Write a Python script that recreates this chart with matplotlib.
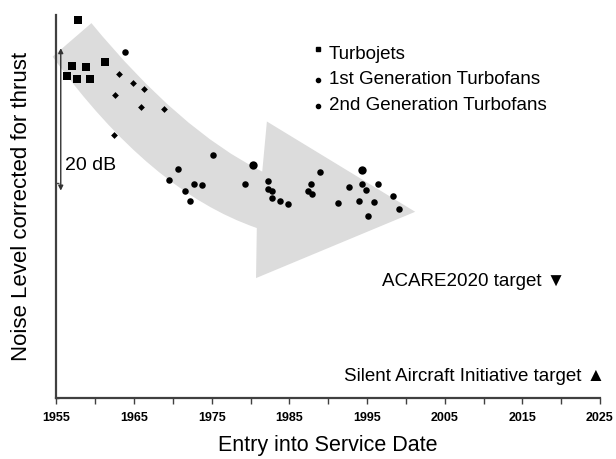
import matplotlib
matplotlib.use("Agg")
import matplotlib.pyplot as plt
from matplotlib.path import Path
from matplotlib.patches import PathPatch
import numpy as np

plt.rcParams['font.family'] = ['Liberation Sans', 'DejaVu Sans']

# data: entry into service year, noise level (relative dB)
turbojet_year = [1957.8, 1957.0, 1956.3, 1957.6, 1958.8, 1959.3, 1961.3]
turbojet_db = [53.6, 47.1, 45.7, 45.2, 46.9, 45.2, 47.6]

gen1_year = [1963.1, 1962.5, 1964.9, 1966.3, 1965.9, 1968.9, 1962.4]
gen1_db = [45.9, 43.0, 44.6, 43.8, 41.3, 41.0, 37.3]

gen2_year = [1963.8, 1975.2, 1970.7, 1969.5, 1971.5, 1972.7, 1973.8, 1972.2,
             1979.3, 1982.3, 1982.3, 1982.7, 1982.8, 1983.8, 1984.8,
             1988.9, 1987.8, 1987.4, 1987.9, 1991.2, 1992.7, 1994.3, 1994.9,
             1996.4, 1993.9, 1995.9, 1995.1, 1998.4, 1999.1]
gen2_db = [49.0, 34.4, 32.5, 30.9, 29.3, 30.4, 30.2, 27.9,
           30.3, 30.7, 29.6, 29.4, 28.3, 27.9, 27.5,
           32.0, 30.4, 29.3, 28.9, 27.7, 29.9, 30.4, 29.5,
           30.4, 27.9, 27.8, 25.8, 28.6, 26.8]
gen2_big_year = [1980.3, 1994.4]
gen2_big_db = [33.0, 32.3]

tick_years = np.arange(1955, 2026, 10)
tick_labels = ['1955', '1965', '1975', '1985', '1995', '2005', '2015', '2025']

# outline of the big grey trend arrow (year, dB)
band_start = [(1954.5, 48.4), (1959.5, 53.15)]
band_top = [(1970.8, 38.0), (1981.5, 32.1)]
arrow_head = [(1982.1, 39.2), (2001.2, 26.4), (1980.7, 17.0), (1980.8, 24.1)]
band_bottom = [(1967.1, 29.3), (1954.5, 48.4)]

fig = plt.figure(figsize=(6.16, 4.59), dpi=100)
ax = fig.add_axes([0.0917, 0.1329, 0.8823, 0.8344])

verts = band_start + band_top + arrow_head + band_bottom
codes = [Path.MOVETO, Path.LINETO, Path.CURVE3, Path.CURVE3,
         Path.LINETO, Path.LINETO, Path.LINETO, Path.LINETO,
         Path.CURVE3, Path.CURVE3]
ax.add_patch(PathPatch(Path(verts, codes), facecolor='#dcdcdc',
                       edgecolor='none', zorder=1, clip_on=False))

ax.scatter(turbojet_year, turbojet_db, marker='s', s=26, color='black',
           zorder=3, clip_on=False, linewidths=0)
ax.scatter(gen1_year, gen1_db, marker='D', s=12, color='black',
           zorder=3, linewidths=0)
ax.scatter(gen2_year, gen2_db, marker='o', s=22, color='black',
           zorder=3, linewidths=0)
ax.scatter(gen2_big_year, gen2_big_db, marker='o', s=36, color='black',
           zorder=3, linewidths=0)

# 20 dB scale arrow
ax.annotate('', xy=(1955.55, 29.4), xytext=(1955.55, 49.6),
            arrowprops=dict(arrowstyle='<|-|>', color='#333333', lw=1.0,
                            mutation_scale=7, shrinkA=0, shrinkB=0))
ax.text(1956.1, 33.0, '20 dB', fontsize=14, va='center', ha='left')

# legend (drawn by hand)
legend_labels = ['Turbojets', '1st Generation Turbofans', '2nd Generation Turbofans']
legend_markers = ['s', 'o', 'o']
legend_y = [0.898, 0.831, 0.763]
for lab, mk, yy in zip(legend_labels, legend_markers, legend_y):
    my = yy + 0.013 if mk == 's' else yy
    ax.plot([0.481], [my], marker=mk, ms=3.5 if mk == 's' else 3,
            color='black', transform=ax.transAxes, clip_on=False)
    ax.text(0.501, yy, lab, fontsize=13.5, va='center', ha='left',
            transform=ax.transAxes)

ax.text(2020.5, 16.5, 'ACARE2020 target \u25bc', fontsize=13.5,
        ha='right', va='center')
ax.text(2025.7, 3.0, 'Silent Aircraft Initiative target \u25b2', fontsize=13.5,
        ha='right', va='center', clip_on=False)

ax.set_xlim(1955, 2025)
ax.set_ylim(0, 54.3)
ax.set_xticks(tick_years)
ax.set_xticklabels(tick_labels, fontsize=9, fontweight='bold')
ax.set_xticks(np.arange(1960, 2026, 10), minor=True)
ax.tick_params(axis='x', which='both', direction='out', length=4,
               width=1, color='#404040', pad=6)
ax.set_yticks([0, 30.5])
ax.set_yticklabels([])
ax.tick_params(axis='y', direction='in', length=2, width=1, color='#404040')

for side in ['top', 'right']:
    ax.spines[side].set_visible(False)
for side in ['left', 'bottom']:
    ax.spines[side].set_color('#404040')
    ax.spines[side].set_linewidth(1.6)

ax.set_xlabel('Entry into Service Date', fontsize=15.5, labelpad=8)
ax.set_ylabel('Noise Level corrected for thrust', fontsize=16, labelpad=14)

fig.savefig('out.png', dpi=100)
